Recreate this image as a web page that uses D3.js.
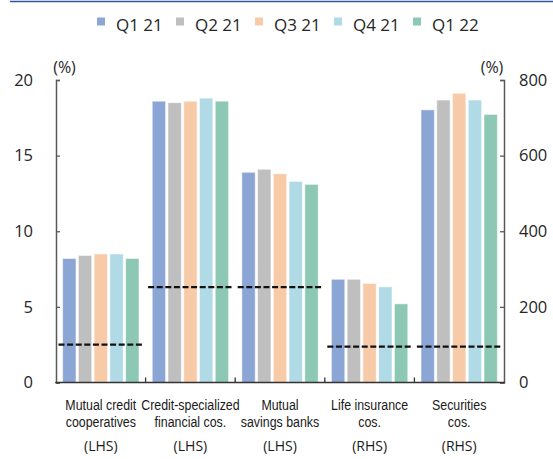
<!DOCTYPE html>
<html><head><meta charset="utf-8">
<script src="https://cdn.jsdelivr.net/npm/d3@7"></script>
<style>
html,body{margin:0;padding:0;background:#fff;}
svg{display:block;font-family:"Open Sans",sans-serif;}
</style></head>
<body>
<svg id="c" width="553" height="459"></svg>
<script>
// ---- data ----
const categories = ["Mutual credit cooperatives","Credit-specialized financial cos.","Mutual savings banks","Life insurance cos.","Securities cos."];
const labelLine1 = ["Mutual credit","Credit-specialized","Mutual","Life insurance","Securities"];
const labelLine2 = ["cooperatives","financial cos.","savings banks","cos.","cos."];
const axisSide = ["LHS","LHS","LHS","RHS","RHS"];
const seriesNames = ["Q1 21","Q2 21","Q3 21","Q4 21","Q1 22"];
const q1_21 = [8.2, 18.6, 13.9, 273, 721];
const q2_21 = [8.4, 18.5, 14.1, 273, 747];
const q3_21 = [8.5, 18.6, 13.8, 262, 765];
const q4_21 = [8.5, 18.8, 13.3, 253, 747];
const q1_22 = [8.2, 18.6, 13.1, 208, 709];
const minimums = [2.5, 6.3, 6.3, 95, 95];
const leftTicks = [0, 5, 10, 15, 20];
const rightTicks = [0, 200, 400, 600, 800];
const colors = ["#8BA5D5","#BFBFBF","#F8CBA8","#B0DAE5","#8CC8B3"];

const seriesValues = [q1_21, q2_21, q3_21, q4_21, q1_22];

// ---- layout ----
const svg = d3.select("#c");
const xL = 56, xR = 504, yBase = 382.5, yTop = 80;
const yLeft = d3.scaleLinear().domain([0, 20]).range([yBase, yTop]);
const yRight = d3.scaleLinear().domain([0, 800]).range([yBase, yTop]);
const x = d3.scaleBand().domain(categories).range([xL, xR]).padding(0);
const xs = d3.scaleBand().domain(seriesNames).range([0, x.bandwidth()]).paddingInner(0.15).paddingOuter(0.42);
const yFor = i => axisSide[i] === "LHS" ? yLeft : yRight;

// top rule
svg.append("line").attr("x1", 10).attr("x2", 553).attr("y1", 1.5).attr("y2", 1.5)
  .attr("stroke", "#2F5597").attr("stroke-width", 1.5);

// legend
const lg = svg.append("g");
seriesNames.forEach((s, i) => {
  const g = lg.append("g").attr("transform", `translate(${97 + i * 79},0)`);
  g.append("rect").attr("x", 0).attr("y", 17.5).attr("width", 8).attr("height", 8).attr("fill", colors[i]);
  g.append("text").attr("x", 19).attr("y", 31).attr("font-size", 17).attr("fill", "#262626").text(s);
});

// bars
const barData = [];
seriesNames.forEach((s, si) => categories.forEach((c, ci) => barData.push({s, c, ci, si, v: seriesValues[si][ci]})));
svg.append("g").selectAll("rect").data(barData).join("rect")
  .attr("x", d => x(d.c) + xs(d.s))
  .attr("width", xs.bandwidth())
  .attr("y", d => yFor(d.ci)(d.v))
  .attr("height", d => yBase - yFor(d.ci)(d.v))
  .attr("fill", d => colors[d.si])
  .attr("stroke", "#ffffff").attr("stroke-opacity", 0.55).attr("stroke-width", 1);

// minimum dashed lines
svg.append("g").selectAll("line").data(categories).join("line")
  .attr("x1", d => x(d) + 2.5)
  .attr("x2", (d) => x(d) + x.bandwidth() - 3)
  .attr("y1", (d, i) => yFor(i)(minimums[i]))
  .attr("y2", (d, i) => yFor(i)(minimums[i]))
  .attr("stroke", "#111").attr("stroke-width", 2.2).attr("stroke-dasharray", "6,2.6");

// axes
const axL = d3.axisLeft(yLeft).tickValues(leftTicks).tickSizeInner(-4).tickSizeOuter(-4).tickPadding(23);
const axR = d3.axisRight(yRight).tickValues(rightTicks).tickSizeInner(-4).tickSizeOuter(-4).tickPadding(15);
function styleAxis(g) {
  g.select(".domain").attr("stroke", "#595959").attr("stroke-width", 1.5);
  g.selectAll(".tick line").attr("stroke", "#595959").attr("stroke-width", 1.3);
  g.selectAll(".tick text").attr("font-size", 16.5).attr("fill", "#262626").attr("font-family", "Open Sans, sans-serif");
}
svg.append("g").attr("transform", `translate(${xL},0)`).call(axL).call(styleAxis);
svg.append("g").attr("transform", `translate(${xR},0)`).call(axR).call(styleAxis);

// baseline with category separators
const xb = svg.append("g");
xb.append("line").attr("x1", xL - 0.75).attr("x2", xR + 0.75).attr("y1", yBase).attr("y2", yBase)
  .attr("stroke", "#333").attr("stroke-width", 1.6);
xb.selectAll("line.sep").data(categories.slice(1)).join("line").attr("class", "sep")
  .attr("x1", d => x(d)).attr("x2", d => x(d)).attr("y1", yBase).attr("y2", yBase - 5)
  .attr("stroke", "#333").attr("stroke-width", 1.3);

// unit labels
svg.append("text").attr("x", 64.5).attr("y", 73).attr("text-anchor", "middle").attr("font-size", 16).attr("fill", "#262626").text("(%)");
svg.append("text").attr("x", 492).attr("y", 73).attr("text-anchor", "middle").attr("font-size", 16).attr("fill", "#262626").text("(%)");

// category labels
const cl = svg.append("g").selectAll("g").data(categories).join("g")
  .attr("transform", d => `translate(${x(d) + x.bandwidth() / 2},0)`);
cl.append("text").attr("transform", "translate(0,409.5) scale(0.8,1)").attr("text-anchor", "middle")
  .attr("font-family", "Liberation Sans, Arial, sans-serif")
  .attr("font-size", 15.5).attr("fill", "#1a1a1a").text((d, i) => labelLine1[i]);
cl.append("text").attr("transform", "translate(0,427) scale(0.8,1)").attr("text-anchor", "middle")
  .attr("font-family", "Liberation Sans, Arial, sans-serif")
  .attr("font-size", 15.5).attr("fill", "#1a1a1a").text((d, i) => labelLine2[i]);
cl.append("text").attr("x", 0).attr("y", 451).attr("text-anchor", "middle")
  .attr("font-size", 14).attr("fill", "#1a1a1a").text((d, i) => "(" + axisSide[i] + ")");
</script>
</body></html>
